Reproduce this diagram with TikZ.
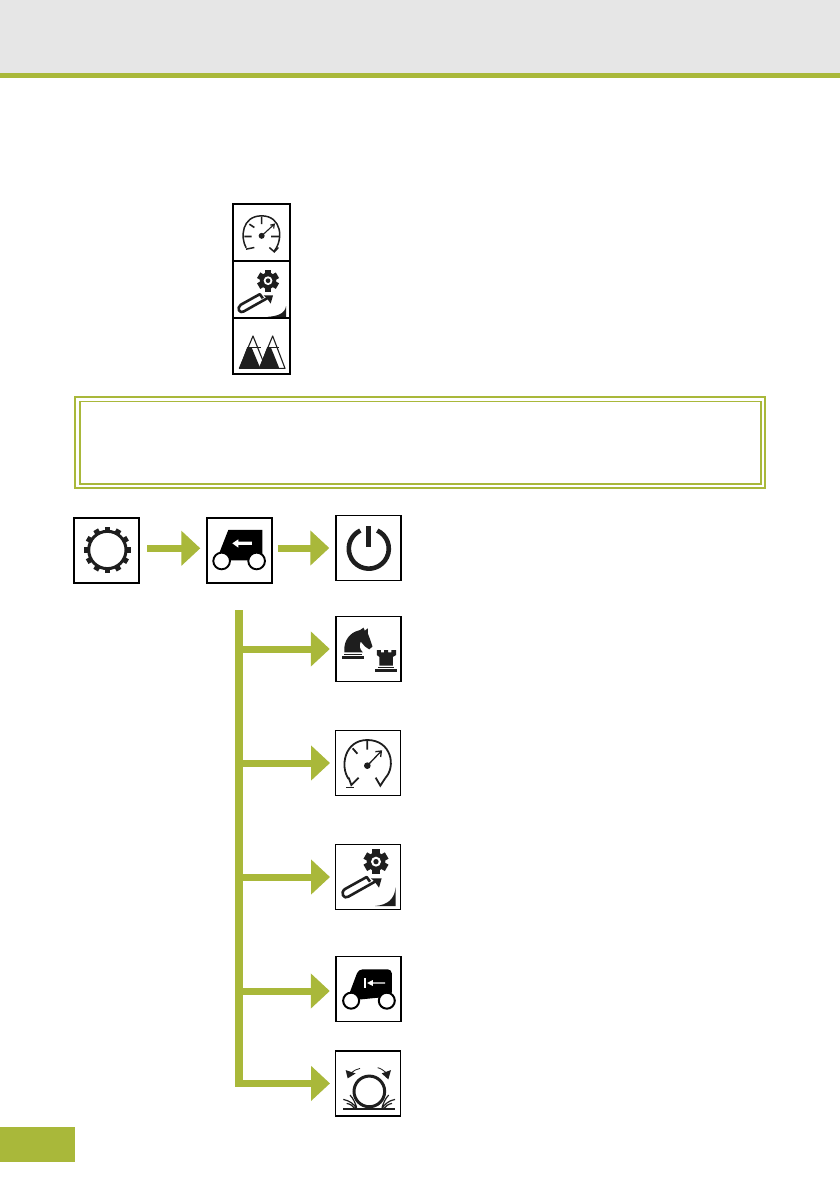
\documentclass[tikz,border=0pt]{standalone}
\usetikzlibrary{arrows.meta}
\definecolor{brand}{HTML}{A9B83A}
\definecolor{bandgray}{HTML}{E6E6E6}
\definecolor{ink}{HTML}{1E1E1E}
\tikzset{
  iconbox/.style={draw=black,line width=1.7pt,fill=white,inner sep=0pt,outer sep=0pt,minimum width=#1,minimum height=#1},
  iconbox/.default=64pt,
  legendbox/.style={draw=black,line width=2pt,fill=white,inner sep=0pt,outer sep=0pt,minimum width=57pt,minimum height=#1},
  flow/.style={draw=brand,line width=7pt,-{Triangle[length=19pt,width=34pt]},line cap=butt},
  trunk/.style={draw=brand,line width=7.5pt,line cap=butt},
  icon/.style={x=.3333pt,y=-.3333pt},
}
\newcommand{\fertbody}{%
  \begin{scope}[shift={(24,-46)}]
    \foreach \a in {0,60,...,300}{\fill[ink,rotate=\a] (-11,-37) rectangle (11,-20);}
    \fill[ink] (0,0) circle (28);
    \fill[white] (0,0) circle (15);
    \fill[ink] (0,0) circle (8);
  \end{scope}
  \draw[ink,line width=2.6pt,line join=round] (6,14) -- (-4,0) -- (-69,36) .. controls (-85,48) and (-72,68) .. (-59,59) -- (28,10);
  \fill[ink] (41,4) -- (9,4) -- (20,14) -- (33,32) -- cycle;
}
\tikzset{
  gaugesmall/.pic={
    \draw[ink,line width=1.5pt,line cap=round] (-45,45) .. controls (-62,15) and (-58,-50) .. (2,-50) .. controls (62,-50) and (68,20) .. (40,55);
    \draw[ink,line width=1.5pt] (-45,50) -- (-20,45) (25,45) -- (40,58) -- (52,45);
    \draw[ink,line width=1.6pt] (-50,12) -- (-28,12) (30,12) -- (55,12) (2,-48) -- (2,-25) (-35,-25) -- (-20,-15);
    \draw[ink,line width=1.1pt] (2,10) -- (40,-25) (28,-22) -- (40,-25) -- (38,-12);
    \fill[ink] (2,10) circle (9);
  },
  gaugelarge/.pic={
    \draw[ink,line width=1.8pt] (-58,48) .. controls (-85,10) and (-70,-69) .. (-2,-69) .. controls (70,-69) and (85,10) .. (52,45);
    \draw[ink,line width=1.8pt,line join=miter] (-58,44) -- (-50,66) -- (-28,44) (23,44) -- (37,68) -- (52,45);
    \draw[ink,line width=1.8pt] (-46,-44) -- (-32,-28) (-2,-69) -- (-2,-40);
    \draw[ink,line width=1.3pt] (-2,8) -- (40,-36) (22,-34) -- (40,-36) -- (38,-18);
    \fill[ink] (-2,8) circle (10);
    \draw[ink,line width=1.5pt] (-66,74) -- (-42,74);
  },
  fertlarge/.pic={
    \fertbody
    \fill[ink] (83,30) -- (83,87) -- (21,87) .. controls (60,84) and (80,65) .. (83,30) -- cycle;
  },
  fertsmall/.pic={
    \fill[ink] (75,50) -- (75,82) -- (20,82) .. controls (50,80) and (72,72) .. (75,50) -- cycle;
    \begin{scope}[shift={(0,14)},scale=.88]\fertbody\end{scope}
  },
  mountains/.pic={
    \fill[ink] (-42,5) -- (-65,67) -- (-2,67) -- (-28,5) -- cycle;
    \fill[ink] (18,5) -- (-5,67) -- (55,67) -- (30,5) -- cycle;
    \draw[ink,line width=1.1pt,line join=round] (-65,67) -- (-24,-30) -- (15,67) -- cycle;
    \draw[ink,line width=1.1pt,line join=round] (-5,67) -- (35,-30) -- (72,67) -- cycle;
    \draw[ink,line width=1.1pt] (-42,5) -- (0,5) (18,5) -- (55,5);
  },
  gearring/.pic={
    \foreach \a in {0,30,...,330}{\fill[ink,rotate around={\a:(2,-1)}] (-6,-71) rectangle (10,-54);}
    \draw[ink,line width=3pt] (2,-1) circle (56);
  },
  tractor/.pic={
    \fill[black] (-33,-61) -- (69,-61) -- (69,16) -- (52,30) -- (-53,30) -- (-60,8) -- (-53,-10) -- cycle;
    \draw[black,fill=white,line width=1.9pt] (-53,32) circle (25) (52,32) circle (25);
    \fill[white] (-21,-21) -- (-3,-33) -- (-3,-26) -- (38,-26) -- (38,-16) -- (-3,-16) -- (-3,-8) -- cycle;
  },
  tractorstop/.pic={
    \fill[black,rounded corners=4pt] (-31,-59) -- (69,-59) -- (69,22) -- (-53,34) -- (-60,18) -- cycle;
    \draw[black,fill=white,line width=2pt] (-53,35) circle (24) (54,35) circle (24);
    \fill[white] (-13,-34) rectangle (-9,-2);
    \fill[white] (-5,-18) -- (12,-27) -- (12,-20) -- (49,-20) -- (49,-16) -- (12,-16) -- (12,-9) -- cycle;
  },
  powericon/.pic={
    \draw[ink,line width=4.6pt] (0,2) ++(-65:60) arc[start angle=-65,end angle=245,radius=60];
    \fill[ink] (-7,-66) rectangle (7,-4);
  },
  chess/.pic={
    \fill[ink] (-73,10) .. controls (-76,-15) and (-66,-40) .. (-41,-52) -- (-26,-57) -- (-16,-64) -- (-12,-55) -- (-3,-62) -- (-3,-47) .. controls (3,-32) and (7,-20) .. (11,-7) -- (1,1) -- (-11,-7) -- (-24,-22) .. controls (-30,-12) and (-28,0) .. (-18,10) -- cycle;
    \fill[ink] (-75,14) rectangle (-20,18);
    \fill[ink] (-81,21) rectangle (-14,29);
    \fill[ink] (24,3) -- (36,3) -- (36,10) -- (46,10) -- (46,3) -- (58,3) -- (58,10) -- (68,10) -- (68,3) -- (82,3) -- (82,18) -- (72,24) -- (72,50) -- (32,50) -- (32,24) -- (24,18) -- cycle;
    \fill[ink] (28,53) rectangle (76,57);
    \fill[ink] (19,60) rectangle (84,70);
  },
  wheelicon/.pic={
    \draw[ink,line width=3pt] (4,24) circle (46);
    \draw[ink,line width=.8pt] (-24,-45) .. controls (-34,-44) and (-42,-38) .. (-50,-32);
    \draw[ink,line width=.8pt] (29,-47) .. controls (38,-46) and (47,-38) .. (55,-32);
    \fill[ink] (-61,-15) -- (-67,-40) -- (-37,-30) -- cycle;
    \fill[ink] (61,-12) -- (69,-40) -- (41,-30) -- cycle;
    \draw[ink,line width=1.5pt] (-74,77) -- (81,77);
    \draw[ink,line width=1.2pt] (-74,48) .. controls (-55,52) and (-42,62) .. (-34,75)
      (-54,35) .. controls (-44,45) and (-38,60) .. (-34,72)
      (-64,60) .. controls (-52,62) and (-45,68) .. (-40,75)
      (81,48) .. controls (62,52) and (50,62) .. (42,75)
      (62,35) .. controls (52,45) and (46,60) .. (42,72)
      (72,60) .. controls (60,62) and (54,68) .. (48,75);
  },
}
\begin{document}
\begin{tikzpicture}[x=1pt,y=-1pt]
  \useasboundingbox (0,0) rectangle (840,1191);
  \fill[white] (0,0) rectangle (840,1191);
  % header and page tab
  \fill[bandgray] (0,0) rectangle (840,73);
  \fill[brand] (0,73) rectangle (840,77.5);
  \fill[brand] (0,1127) rectangle (74.5,1162);
  % framed panel
  \draw[brand,line width=2.4pt] (75.2,397.2) rectangle (764.8,487.8);
  \draw[brand,line width=1.8pt] (79.6,401.4) rectangle (760.6,483.6);
  % legend icons
  \node[legendbox=57pt] (legA) at (261,232.5) {};
  \node[legendbox=57pt] (legB) at (261,289.5) {};
  \node[legendbox=56pt] (legC) at (261,346) {};
  \path (legA.center) pic[icon] {gaugesmall};
  \path (legB.center) pic[icon] {fertsmall};
  \path (legC.center) pic[icon] {mountains};
  % top row
  \node[iconbox=65pt] (gear) at (106.7,550.3) {};
  \node[iconbox=65pt] (trac) at (239.3,550.3) {};
  \node[iconbox=65pt] (power) at (368.8,548) {};
  \path (gear.center) pic[icon] {gearring};
  \path (trac.center) pic[icon] {tractor};
  \path (power.center) pic[icon] {powericon};
  \draw[flow,shorten <=8pt,shorten >=6.5pt] ([yshift=2pt]gear.east) -- ([yshift=2pt]trac.west);
  \draw[flow,shorten <=6pt,shorten >=7pt] (trac.east |- power.center) -- (power.west);
  % branch icons
  \node[iconbox=65pt] (chessbox) at (368.8,649) {};
  \node[iconbox=65pt] (gaugebox) at (368,763) {};
  \node[iconbox=65pt] (fertbox) at (368,877) {};
  \node[iconbox=65pt] (stopbox) at (368.8,989) {};
  \node[iconbox=65pt] (wheelbox) at (368,1083.4) {};
  \path (chessbox.center) pic[icon] {chess};
  \path (gaugebox.center) pic[icon] {gaugelarge};
  \path (fertbox.center) pic[icon] {fertlarge};
  \path (stopbox.center) pic[icon] {tractorstop};
  \path (wheelbox.center) pic[icon] {wheelicon};
  % trunk
  \coordinate (trunktop) at (239,610);
  \coordinate (trunkend) at (239,1087.2);
  \draw[trunk] (trunktop) -- (trunkend);
  \draw[flow,shorten >=6.5pt] (trunktop |- chessbox.west) -- (chessbox.west);
  \draw[flow,shorten >=5.5pt] (trunktop |- gaugebox.west) -- (gaugebox.west);
  \draw[flow,shorten >=5.5pt] (trunktop |- fertbox.west) -- (fertbox.west);
  \draw[flow,shorten >=6.5pt] ([yshift=-2pt]trunktop |- stopbox.west) -- ([yshift=-2pt]stopbox.west);
  \draw[flow,shorten >=5.5pt] (trunktop |- wheelbox.west) -- (wheelbox.west);
\end{tikzpicture}
\end{document}
